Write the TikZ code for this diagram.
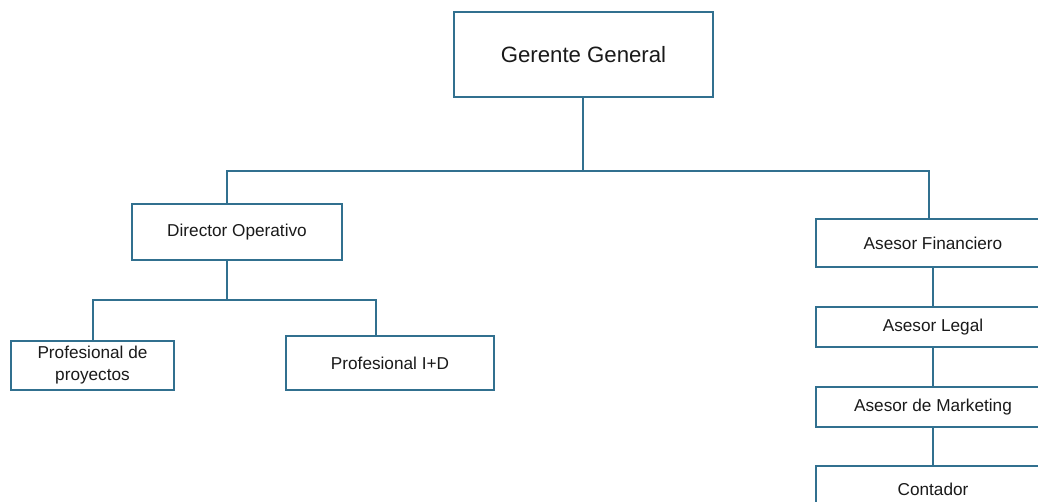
\documentclass[tikz,border=0pt]{standalone}
\usepackage{fontspec}
\setmainfont{Liberation Sans}
\definecolor{lineblue}{HTML}{31708F}
\definecolor{txt}{HTML}{1A1A1A}
\begin{document}
\begin{tikzpicture}[x=1pt,y=-1pt,
  box/.style={draw=lineblue,line width=1.8pt,fill=white,text=txt,align=center,inner sep=0pt,font=\fontsize{17.2}{22}\selectfont},
  conn/.style={draw=lineblue,line width=1.9pt}]
\useasboundingbox (0,0) rectangle (1038,502);
\clip (0,0) rectangle (1038,502);
% nodes (corners in pixels)
\node[box,minimum width=259pt,minimum height=85pt,font=\fontsize{22.2}{26}\selectfont] (gg) at (583.5,54.5) {Gerente General};
\node[box,minimum width=210pt,minimum height=56pt] (do) at (237,232) {Director Operativo};
\node[box,minimum width=163pt,minimum height=49pt] (pp) at (92.5,365.5) {\raisebox{-2pt}{Profesional de}\\\raisebox{-2pt}{proyectos}};
\node[box,minimum width=208pt,minimum height=54pt] (pid) at (390,363) {Profesional I+D};
\node[box,minimum width=234pt,minimum height=48pt] (af) at (933,243) {Asesor Financiero};
\node[box,minimum width=234pt,minimum height=40pt] (al) at (933,327) {Asesor Legal};
\node[box,minimum width=234pt,minimum height=40pt] (am) at (933,407) {Asesor de Marketing};
\node[box,minimum width=234pt,minimum height=60pt] (co) at (933,496) {\raisebox{13pt}{Contador}};
% connector points
\coordinate (topbar) at (583,171);
\coordinate (dobar) at (227,300);
\coordinate (ggS) at ([xshift=-0.5pt]gg.south);
\coordinate (doN) at ([xshift=-10pt]do.north);
\coordinate (doS) at ([xshift=-10pt]do.south);
\coordinate (ppN) at ([xshift=0.5pt]pp.north);
\coordinate (pidN) at ([xshift=-14pt]pid.north);
\coordinate (afN) at ([xshift=-4pt]af.north);
% connectors
\draw[conn] (ggS) -- (topbar);
\draw[conn] (doN) |- (topbar) -| (afN);
\draw[conn] (doS) -- (dobar);
\draw[conn] (ppN) |- (dobar) -| (pidN);
\draw[conn] (af.south) -- (al.north);
\draw[conn] (al.south) -- (am.north);
\draw[conn] (am.south) -- (co.north);
\end{tikzpicture}
\end{document}
